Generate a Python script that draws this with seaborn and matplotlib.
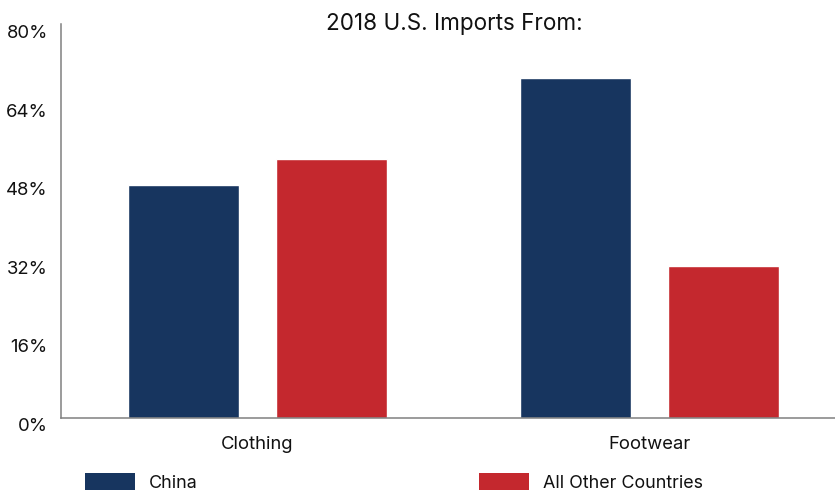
import matplotlib
matplotlib.use("Agg")
import matplotlib.pyplot as plt
import matplotlib.transforms as mtransforms
from matplotlib.patches import Patch
import pandas as pd
import seaborn as sns

# Share of 2018 U.S. imports (%)
categories = ["Clothing", "Footwear"]
series = ["China", "All Other Countries"]
china = [47.3, 69.2]
other = [52.7, 30.8]
y_ticks = [0, 16, 32, 48, 64, 80]
title = "2018 U.S. Imports From:"

colors = {"China": "#17355F", "All Other Countries": "#C4282E"}

df = pd.DataFrame({
    "category": categories * 2,
    "source": [series[0]] * len(categories) + [series[1]] * len(categories),
    "share": china + other,
})

sns.set_theme(style="white")
plt.rcParams["font.family"] = ["Inter", "DejaVu Sans"]

fig = plt.figure(figsize=(8.35, 4.91), dpi=100)
ax = fig.add_axes([61 / 835, 1 - 417.5 / 491, 785 / 835, 393 / 491])

sns.barplot(data=df, x="category", y="share", hue="source", order=categories,
            hue_order=series, palette=colors, width=0.754, gap=0.25,
            saturation=1, errorbar=None, ax=ax, legend=False)

ax.set_xlim(-0.5, 1.5)
ax.set_ylim(0, 80)
ax.set_yticks(y_ticks)
ax.set_yticklabels([f"{v}%" for v in y_ticks])
ax.set_xlabel("")
ax.set_ylabel("")

for side in ("top", "right"):
    ax.spines[side].set_visible(False)
for side in ("left", "bottom"):
    ax.spines[side].set_color("#808080")
    ax.spines[side].set_linewidth(1.1)

ax.tick_params(axis="y", length=0, pad=9.5, labelsize=13.3, labelcolor="#111111")
ax.tick_params(axis="x", length=0, pad=13.5, labelsize=13.3, labelcolor="#111111")

# Nudge the percentage labels slightly below their tick positions
shift = mtransforms.ScaledTranslation(0, -7 / 100, fig.dpi_scale_trans)
for lbl in ax.get_yticklabels():
    lbl.set_transform(lbl.get_transform() + shift)

fig.text(454.5 / 835, 1 - 24 / 491, title, ha="center", va="center",
         fontsize=16.2, color="#111111")

handles = [Patch(facecolor=colors[s], edgecolor="none") for s in series]
fig.legend(handles, series, loc="center left", bbox_to_anchor=(85 / 835, 1 - 482.5 / 491),
           ncol=2, frameon=False, fontsize=12.9, handlelength=2.8, handleheight=1.1,
           handletextpad=0.78, columnspacing=15.7, borderpad=0, borderaxespad=0,
           labelcolor="#111111")

fig.savefig("out.png", dpi=100)
